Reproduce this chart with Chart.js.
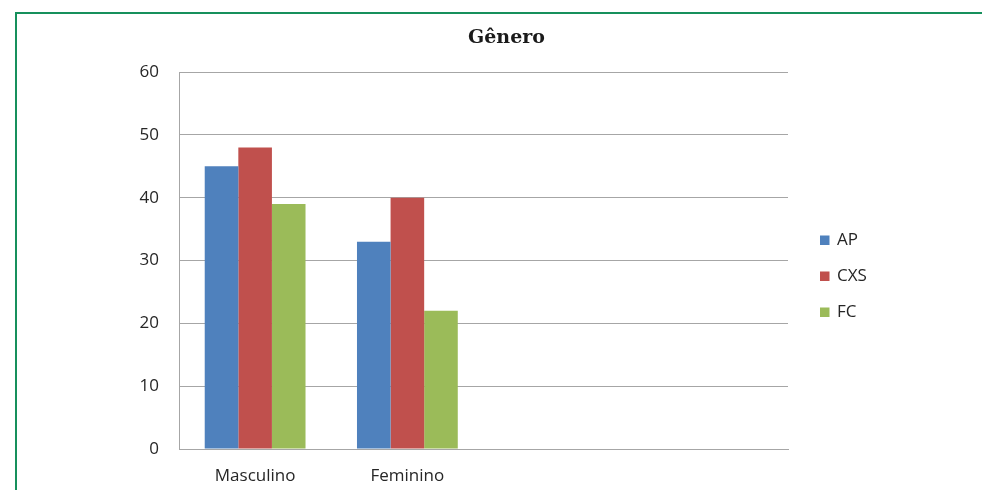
<!DOCTYPE html>
<html>
<head>
<meta charset="utf-8">
<script src="https://cdn.jsdelivr.net/npm/chart.js@4.4.0/dist/chart.umd.min.js"></script>
<style>
    html, body { margin: 0; padding: 0; background: #fff; overflow: hidden; }
    #frame {
        position: absolute; left: 15px; top: 12px; width: 1000px; height: 500px;
        border-left: 2px solid #16905c; border-top: 2px solid #16905c;
    }
    #wrap { position: absolute; left: 17px; top: 14px; width: 979px; height: 476px; }
</style>
</head>
<body>
<div id="frame"></div>
<div id="wrap"><canvas id="generoChart"></canvas></div>
<script>
// Dados do gráfico
var titulo = 'Gênero';
var categorias = ['Masculino', 'Feminino', '', ''];
var serieAP = [45, 33, null, null];
var serieCXS = [48, 40, null, null];
var serieFC = [39, 22, null, null];
var ticksY = [0, 10, 20, 30, 40, 50, 60];

var corTexto = '#262626';
var corGrade = '#a6a6a6';
var fonte = "'Open Sans', sans-serif";

// Título e legenda desenhados no estilo do Excel
var tituloELegenda = {
    id: 'tituloELegenda',
    afterDraw: function(chart) {
        var ctx = chart.ctx;
        ctx.save();
        // título centrado na área total do gráfico
        ctx.font = "bold 19px 'DejaVu Serif', serif";
        ctx.fillStyle = '#1a1a1a';
        ctx.textAlign = 'center';
        ctx.textBaseline = 'alphabetic';
        ctx.fillText(titulo, chart.width / 2, 29);

        // legenda à direita
        ctx.font = '17px ' + fonte;
        ctx.textAlign = 'left';
        chart.data.datasets.forEach(function(ds, i) {
            var base = 231 + i * 36;
            ctx.fillStyle = ds.backgroundColor;
            ctx.fillRect(803, base - 9.5, 9.5, 9.5);
            ctx.fillStyle = corTexto;
            ctx.fillText(ds.label, 820, base);
        });
        ctx.restore();
    }
};

var ctx = document.getElementById('generoChart');
new Chart(ctx, {
    type: 'bar',
    data: {
        labels: categorias,
        datasets: [
            { label: 'AP', data: serieAP, backgroundColor: '#4f81bd' },
            { label: 'CXS', data: serieCXS, backgroundColor: '#c0504d' },
            { label: 'FC', data: serieFC, backgroundColor: '#9bbb59' }
        ]
    },
    options: {
        responsive: true,
        maintainAspectRatio: false,
        animation: false,
        layout: { padding: { left: 100, right: 208, top: 58, bottom: 0 } },
        datasets: {
            bar: { categoryPercentage: 0.662, barPercentage: 1, borderWidth: 0 }
        },
        plugins: {
            legend: { display: false },
            tooltip: { enabled: false },
            title: { display: false }
        },
        scales: {
            x: {
                grid: { display: false, drawTicks: false },
                border: { display: true, color: corGrade, width: 1 },
                ticks: { color: corTexto, font: { family: fonte, size: 17 }, padding: 17, maxRotation: 0 },
                afterFit: function(scale) { scale.height = 41; }
            },
            y: {
                min: 0,
                max: 60,
                afterBuildTicks: function(scale) {
                    scale.ticks = ticksY.map(function(v) { return { value: v }; });
                },
                grid: { color: corGrade, lineWidth: 1, drawTicks: false },
                border: { display: true, color: corGrade, width: 1 },
                ticks: { color: corTexto, font: { family: fonte, size: 17 }, padding: 20 },
                afterFit: function(scale) { scale.width = 62; }
            }
        }
    },
    plugins: [tituloELegenda]
});
</script>
</body>
</html>
